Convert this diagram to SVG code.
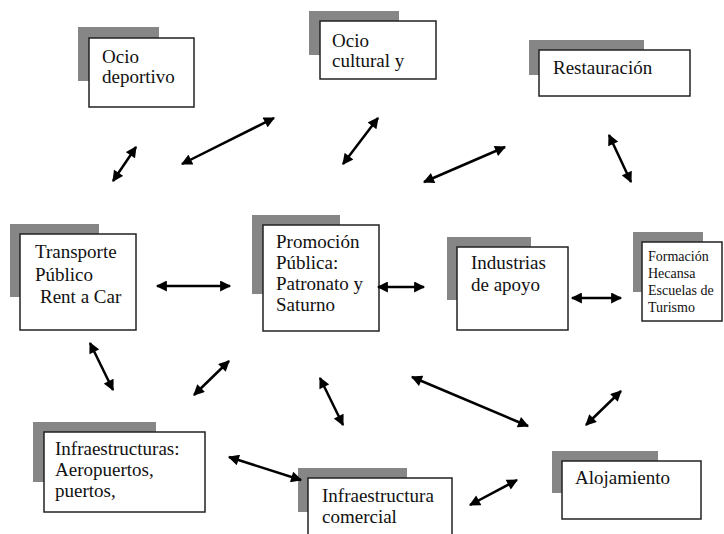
<svg xmlns="http://www.w3.org/2000/svg" width="724" height="534" viewBox="0 0 724 534">
<defs>
<marker id="ah" viewBox="0 0 10 10" refX="9" refY="5" markerWidth="12" markerHeight="11" markerUnits="userSpaceOnUse" orient="auto-start-reverse">
<path d="M0,0 L10,5 L0,10 Z" fill="#000"/>
</marker>
</defs>
<style>
.sh{fill:#868686;stroke:none}
.bx{fill:#fff;stroke:#222;stroke-width:1.5}
text{font-family:'Liberation Serif','Times New Roman',Tinos,'DejaVu Serif',serif;fill:#111}
.t{font-size:19px}
.ts{font-size:14px}
.c line{stroke:#000;stroke-width:2.5;marker-start:url(#ah);marker-end:url(#ah)}
</style>
<rect width="724" height="534" fill="#fff"/>

<g id="ocio-deportivo">
<rect class="sh" x="78" y="27" width="81" height="54"/>
<rect class="bx" x="89" y="38" width="105" height="69"/>
<text class="t" x="102" y="63" font-family="Liberation Serif, serif">Ocio</text>
<text class="t" x="102" y="83" font-family="Liberation Serif, serif">deportivo</text>
</g>

<g id="ocio-cultural">
<rect class="sh" x="309" y="11" width="90" height="44"/>
<rect class="bx" x="320" y="21" width="116" height="58"/>
<text class="t" x="332" y="47">Ocio</text>
<text class="t" x="332" y="67">cultural y</text>
</g>

<g id="restauracion">
<rect class="sh" x="529" y="40" width="115" height="35"/>
<rect class="bx" x="539" y="50" width="151" height="46"/>
<text class="t" x="553" y="74">Restauración</text>
</g>

<g id="transporte">
<rect class="sh" x="10" y="224" width="89" height="73"/>
<rect class="bx" x="20" y="234" width="116" height="96"/>
<text class="t" x="35" y="258">Transporte</text>
<text class="t" x="35" y="281">Público</text>
<text class="t" x="40" y="303">Rent a Car</text>
</g>

<g id="promocion">
<rect class="sh" x="252" y="215" width="88" height="79"/>
<rect class="bx" x="263" y="225" width="116" height="106"/>
<text class="t" x="276" y="248">Promoción</text>
<text class="t" x="276" y="269">Pública:</text>
<text class="t" x="276" y="290">Patronato y</text>
<text class="t" x="276" y="311">Saturno</text>
</g>

<g id="industrias">
<rect class="sh" x="447" y="237" width="84" height="63"/>
<rect class="bx" x="457" y="247" width="111" height="83"/>
<text class="t" x="471" y="269">Industrias</text>
<text class="t" x="471" y="291">de apoyo</text>
</g>

<g id="formacion">
<rect class="sh" x="633" y="232" width="70" height="60"/>
<rect class="bx" x="642" y="242" width="80" height="79"/>
<text class="ts" x="648" y="261">Formación</text>
<text class="ts" x="648" y="278">Hecansa</text>
<text class="ts" x="648" y="295">Escuelas de</text>
<text class="ts" x="648" y="312">Turismo</text>
</g>

<g id="infraestructuras">
<rect class="sh" x="33" y="422" width="123" height="60"/>
<rect class="bx" x="44" y="432" width="161" height="80"/>
<text class="t" x="55" y="455">Infraestructuras:</text>
<text class="t" x="55" y="476">Aeropuertos,</text>
<text class="t" x="55" y="497">puertos,</text>
</g>

<g id="infraestructura-comercial">
<rect class="sh" x="298" y="468" width="109" height="44"/>
<rect class="bx" x="308" y="478" width="144" height="62"/>
<text class="t" x="322" y="502">Infraestructura</text>
<text class="t" x="322" y="523">comercial</text>
</g>

<g id="alojamiento">
<rect class="sh" x="552" y="451" width="106" height="42"/>
<rect class="bx" x="562" y="461" width="139" height="58"/>
<text class="t" x="575" y="484">Alojamiento</text>
</g>

<g id="connectors" class="c">
<line x1="113" y1="181" x2="136" y2="147"/>
<line x1="182" y1="164" x2="274" y2="118"/>
<line x1="343" y1="164" x2="378" y2="118"/>
<line x1="424" y1="182" x2="505" y2="147"/>
<line x1="609" y1="135" x2="631" y2="182"/>
<line x1="157" y1="286" x2="230" y2="286"/>
<line x1="378" y1="287" x2="424" y2="287"/>
<line x1="572" y1="298" x2="621" y2="298"/>
<line x1="90" y1="343" x2="113" y2="390"/>
<line x1="194" y1="395" x2="229" y2="361"/>
<line x1="320" y1="378" x2="343" y2="425"/>
<line x1="412" y1="377" x2="528" y2="426"/>
<line x1="586" y1="425" x2="621" y2="391"/>
<line x1="229" y1="457" x2="301" y2="480"/>
<line x1="470" y1="505" x2="517" y2="480"/>
</g>
</svg>
